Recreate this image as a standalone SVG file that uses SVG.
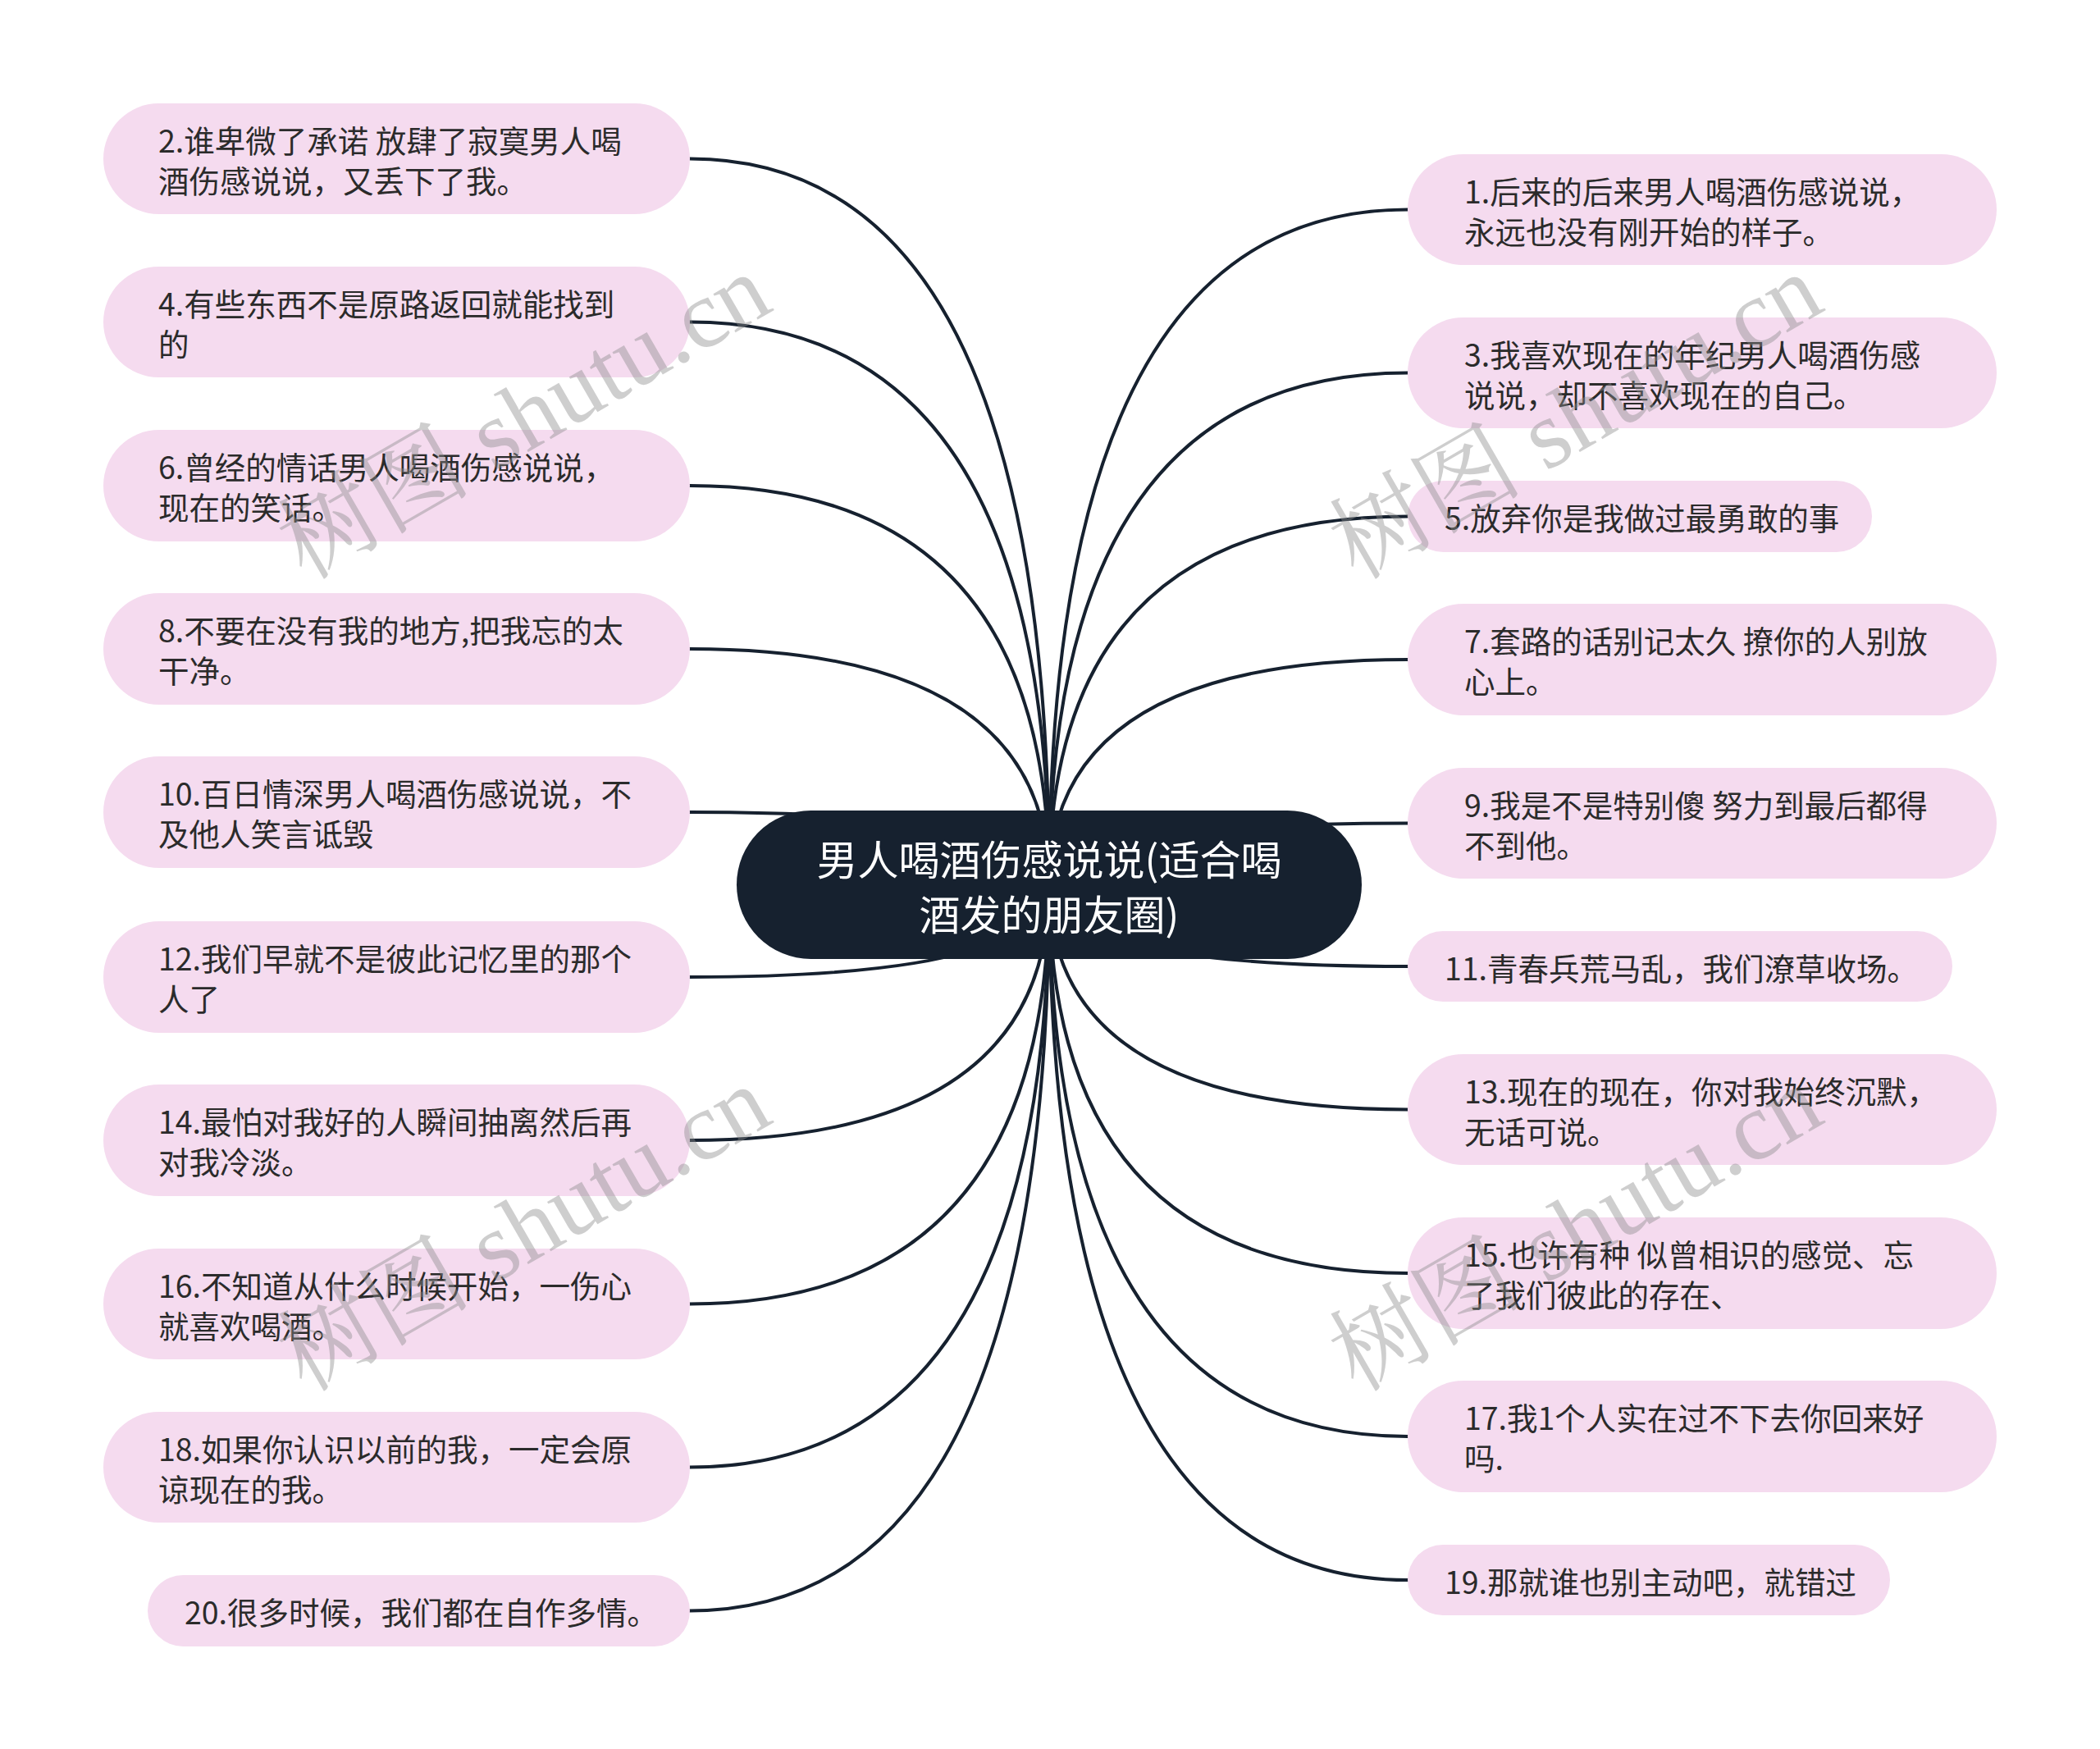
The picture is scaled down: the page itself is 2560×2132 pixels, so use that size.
<svg xmlns="http://www.w3.org/2000/svg" width="2560" height="2132" viewBox="0 0 2560 2132">
<style>
.bg{fill:#ffffff}
.link{fill:none;stroke:#16212f;stroke-width:4;stroke-linecap:round}
.root{fill:#16212f}
.rt{fill:#ffffff;font-family:"Noto Sans CJK SC","Noto Sans",sans-serif;font-size:50px;text-anchor:middle;dominant-baseline:central}
.box{fill:#f5dbef}
.t{fill:#2b2b2b;font-family:"Noto Sans CJK SC","Noto Sans",sans-serif;font-size:37.5px;dominant-baseline:central}
.wm{fill:#8a8a8a;fill-opacity:0.42;font-family:"Liberation Serif","Noto Serif CJK SC","Noto Sans CJK SC",serif;font-size:118px}
</style>
<rect class="bg" x="0" y="0" width="2560" height="2132"/>
<g id="connectors">
<path class="link" d="M1279 1078 Q1279 193.5 841 193.5"/>
<path class="link" d="M1279 1078 Q1279 392.5 841 392.5"/>
<path class="link" d="M1279 1078 Q1279 592 841 592"/>
<path class="link" d="M1279 1078 Q1279 791 841 791"/>
<path class="link" d="M1279 1078 Q1279 990 841 990"/>
<path class="link" d="M1279 1078 Q1279 1191 841 1191"/>
<path class="link" d="M1279 1078 Q1279 1390 841 1390"/>
<path class="link" d="M1279 1078 Q1279 1589.5 841 1589.5"/>
<path class="link" d="M1279 1078 Q1279 1788.5 841 1788.5"/>
<path class="link" d="M1279 1078 Q1279 1963.5 841 1963.5"/>
<path class="link" d="M1279 1078 Q1279 255.5 1716 255.5"/>
<path class="link" d="M1279 1078 Q1279 454.5 1716 454.5"/>
<path class="link" d="M1279 1078 Q1279 629.5 1716 629.5"/>
<path class="link" d="M1279 1078 Q1279 804 1716 804"/>
<path class="link" d="M1279 1078 Q1279 1003.5 1716 1003.5"/>
<path class="link" d="M1279 1078 Q1279 1178 1716 1178"/>
<path class="link" d="M1279 1078 Q1279 1352.5 1716 1352.5"/>
<path class="link" d="M1279 1078 Q1279 1552 1716 1552"/>
<path class="link" d="M1279 1078 Q1279 1751 1716 1751"/>
<path class="link" d="M1279 1078 Q1279 1926 1716 1926"/>
</g>
<g id="root">
<rect class="root" x="898" y="988" width="762" height="181" rx="90.5"/>
<text class="rt" x="1279" y="1045">男人喝酒伤感说说(适合喝</text>
<text class="rt" x="1279" y="1112">酒发的朋友圈)</text>
</g>
<g id="n2"><rect class="box" x="126" y="126" width="715" height="135" rx="67.5"/><text class="t" x="193" y="169">2.谁卑微了承诺 放肆了寂寞男人喝</text><text class="t" x="193" y="218">酒伤感说说，又丢下了我。</text></g>
<g id="n4"><rect class="box" x="126" y="325" width="715" height="135" rx="67.5"/><text class="t" x="193" y="368">4.有些东西不是原路返回就能找到</text><text class="t" x="193" y="417">的</text></g>
<g id="n6"><rect class="box" x="126" y="524" width="715" height="136" rx="68"/><text class="t" x="193" y="567.5">6.曾经的情话男人喝酒伤感说说，</text><text class="t" x="193" y="616.5">现在的笑话。</text></g>
<g id="n8"><rect class="box" x="126" y="723" width="715" height="136" rx="68"/><text class="t" x="193" y="766.5">8.不要在没有我的地方,把我忘的太</text><text class="t" x="193" y="815.5">干净。</text></g>
<g id="n10"><rect class="box" x="126" y="922" width="715" height="136" rx="68"/><text class="t" x="193" y="965.5">10.百日情深男人喝酒伤感说说，不</text><text class="t" x="193" y="1014.5">及他人笑言诋毁</text></g>
<g id="n12"><rect class="box" x="126" y="1123" width="715" height="136" rx="68"/><text class="t" x="193" y="1166.5">12.我们早就不是彼此记忆里的那个</text><text class="t" x="193" y="1215.5">人了</text></g>
<g id="n14"><rect class="box" x="126" y="1322" width="715" height="136" rx="68"/><text class="t" x="193" y="1365.5">14.最怕对我好的人瞬间抽离然后再</text><text class="t" x="193" y="1414.5">对我冷淡。</text></g>
<g id="n16"><rect class="box" x="126" y="1522" width="715" height="135" rx="67.5"/><text class="t" x="193" y="1565">16.不知道从什么时候开始，一伤心</text><text class="t" x="193" y="1614">就喜欢喝酒。</text></g>
<g id="n18"><rect class="box" x="126" y="1721" width="715" height="135" rx="67.5"/><text class="t" x="193" y="1764">18.如果你认识以前的我，一定会原</text><text class="t" x="193" y="1813">谅现在的我。</text></g>
<g id="n20"><rect class="box" x="180" y="1920" width="661" height="87" rx="43.5"/><text class="t" x="225" y="1963.5">20.很多时候，我们都在自作多情。</text></g>
<g id="n1"><rect class="box" x="1716" y="188" width="718" height="135" rx="67.5"/><text class="t" x="1785" y="231">1.后来的后来男人喝酒伤感说说，</text><text class="t" x="1785" y="280">永远也没有刚开始的样子。</text></g>
<g id="n3"><rect class="box" x="1716" y="387" width="718" height="135" rx="67.5"/><text class="t" x="1785" y="430">3.我喜欢现在的年纪男人喝酒伤感</text><text class="t" x="1785" y="479">说说，却不喜欢现在的自己。</text></g>
<g id="n5"><rect class="box" x="1716" y="586" width="566" height="87" rx="43.5"/><text class="t" x="1761" y="629.5">5.放弃你是我做过最勇敢的事</text></g>
<g id="n7"><rect class="box" x="1716" y="736" width="718" height="136" rx="68"/><text class="t" x="1785" y="779.5">7.套路的话别记太久 撩你的人别放</text><text class="t" x="1785" y="828.5">心上。</text></g>
<g id="n9"><rect class="box" x="1716" y="936" width="718" height="135" rx="67.5"/><text class="t" x="1785" y="979">9.我是不是特别傻 努力到最后都得</text><text class="t" x="1785" y="1028">不到他。</text></g>
<g id="n11"><rect class="box" x="1716" y="1135" width="664" height="86" rx="43"/><text class="t" x="1761" y="1178">11.青春兵荒马乱，我们潦草收场。</text></g>
<g id="n13"><rect class="box" x="1716" y="1285" width="718" height="135" rx="67.5"/><text class="t" x="1785" y="1328">13.现在的现在，你对我始终沉默，</text><text class="t" x="1785" y="1377">无话可说。</text></g>
<g id="n15"><rect class="box" x="1716" y="1484" width="718" height="136" rx="68"/><text class="t" x="1785" y="1527.5">15.也许有种 似曾相识的感觉、忘</text><text class="t" x="1785" y="1576.5">了我们彼此的存在、</text></g>
<g id="n17"><rect class="box" x="1716" y="1683" width="718" height="136" rx="68"/><text class="t" x="1785" y="1726.5">17.我1个人实在过不下去你回来好</text><text class="t" x="1785" y="1775.5">吗.</text></g>
<g id="n19"><rect class="box" x="1716" y="1883" width="588" height="86" rx="43"/><text class="t" x="1761" y="1926">19.那就谁也别主动吧，就错过</text></g>
<g id="watermarks">
<text class="wm" transform="translate(372 708) rotate(-30)">树图 shutu.cn</text>
<text class="wm" transform="translate(1654 708) rotate(-30)">树图 shutu.cn</text>
<text class="wm" transform="translate(372 1698) rotate(-30)">树图 shutu.cn</text>
<text class="wm" transform="translate(1654 1698) rotate(-30)">树图 shutu.cn</text>
</g>
</svg>
